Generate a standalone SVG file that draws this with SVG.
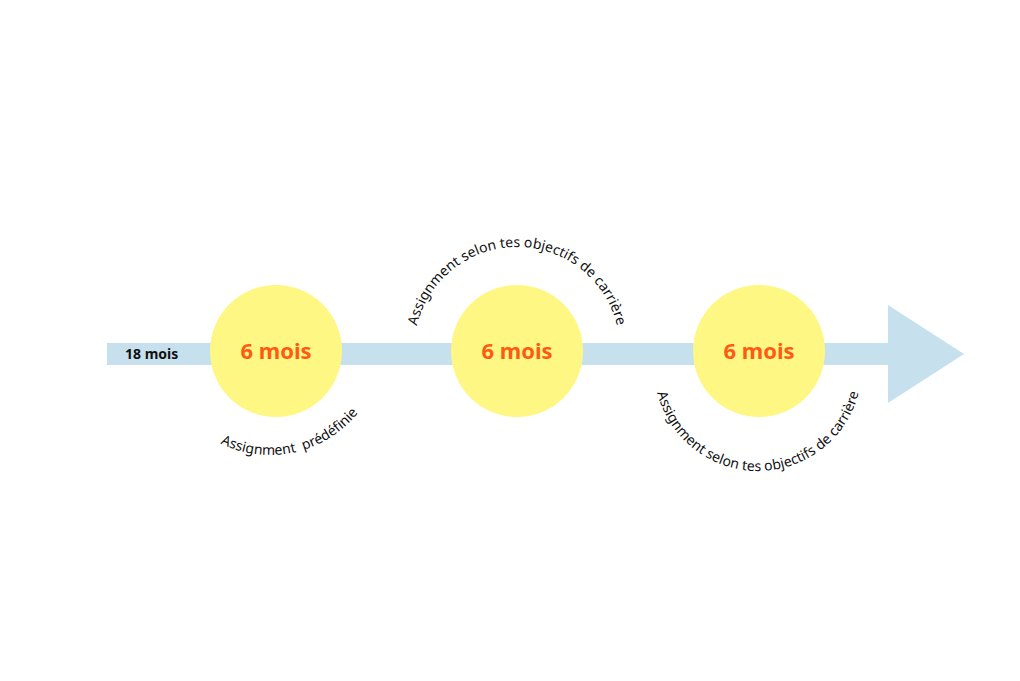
<svg xmlns="http://www.w3.org/2000/svg" xmlns:xlink="http://www.w3.org/1999/xlink" width="1020" height="681" viewBox="0 0 1020 681">
<style>
.circ{fill:#fff783}
.big{font-family:"Noto Sans","Open Sans","Liberation Sans",sans-serif;font-weight:700;font-size:22px;fill:#ff5a14;text-anchor:middle}
.lbl{font-family:"Noto Sans","Open Sans","Liberation Sans",sans-serif;font-size:14px;fill:#111}
</style>
<defs>
<path id="p1" d="M 157 342 A 113 113 0 0 0 383 342"/>
<path id="p2" d="M 414 350 A 103 103 0 0 1 620 350"/>
<path id="p3" d="M 654 367 A 104 104 0 0 0 862 367"/>
</defs>
<rect width="1020" height="681" fill="#fff"/>
<g id="connectors">
<polygon points="107,343 888,343 888,305 964,354 888,403 888,365 107,365" fill="#c7e0ed"/>
</g>
<g id="start">
<text x="125" y="359" font-family="'Noto Sans','Open Sans','Liberation Sans',sans-serif" font-weight="700" font-size="14" fill="#111">18 mois</text>
</g>
<g id="node1">
<circle class="circ" cx="276" cy="351" r="66"/>
<text class="big" x="276" y="359">6 mois</text>
<text class="lbl" font-size="15.5" xml:space="preserve"><textPath href="#p1" xlink:href="#p1" startOffset="57%" text-anchor="middle">Assignment  prédéfinie</textPath></text>
</g>
<g id="node2">
<circle class="circ" cx="517" cy="351" r="66"/>
<text class="big" x="517" y="359">6 mois</text>
<text class="lbl"><textPath href="#p2" xlink:href="#p2" startOffset="50%" text-anchor="middle">Assignment selon tes objectifs de carrière</textPath></text>
</g>
<g id="node3">
<circle class="circ" cx="759" cy="351" r="66"/>
<text class="big" x="759" y="359">6 mois</text>
<text class="lbl"><textPath href="#p3" xlink:href="#p3" startOffset="50%" text-anchor="middle">Assignment selon tes objectifs de carrière</textPath></text>
</g>
</svg>
